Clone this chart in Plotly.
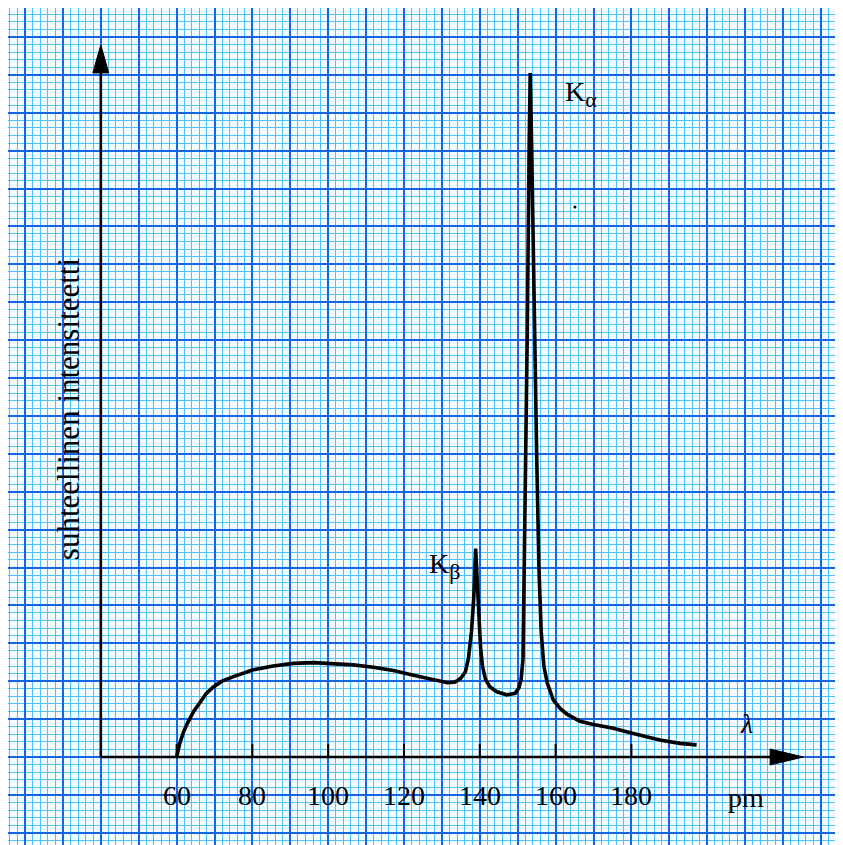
import plotly.graph_objects as go

# Spectrum (wavelength in pm, relative intensity in grid units)
wavelength = [60, 60.8, 61.8, 62.9, 64.5, 66.2, 67.8, 69.7, 72.0, 75, 80.2, 85.5, 90.8, 96.1, 100,
              106.6, 111.9, 117.2, 122.5, 128.6, 131.5, 133.5, 135.0, 136.2, 137.0,
              137.8, 138.4, 138.9, 139.3, 139.7, 140.2, 140.7, 141.5, 142.7, 144.5,
              147.1, 149.3, 150.3, 150.9, 151.4, 151.9, 152.5, 153.0, 153.3, 153.7,
              154.3, 155.0, 155.6, 156.2, 156.9, 157.8, 159.4, 161.2, 163.0, 166.4,
              170.0, 175.2, 180.5, 187.5, 192.8, 197.2]
intensity = [0, 3.5, 6.5, 9.0, 12.0, 14.6, 16.7, 18.5, 20.0, 21.2, 23.0, 24.0, 24.7, 24.9, 24.7,
             24.3, 23.7, 22.8, 21.6, 20.3, 19.6, 19.8, 20.8, 22.5, 26,
             33, 42, 55, 46, 37, 29, 24, 20.5, 18.5, 17.2,
             16.4, 16.8, 18.2, 20.5, 26, 60, 110, 160, 180.5, 160,
             120, 80, 50, 33, 24, 19.5, 15.0, 12.8, 11.3, 9.4,
             8.6, 7.6, 6.2, 4.5, 3.6, 3.2]

tick_values = [60, 80, 100, 120, 140, 160, 180]
y_label = "suhteellinen intensiteetti"
x_unit = "pm"
x_symbol = "λ"
peak_labels = [("K", "α", 161.9, 175.0), ("K", "β", 126.0, 50.5)]

MAJOR = "#1565e6"
MINOR = "#52c2f2"
SERIF = "Liberation Serif"

fig = go.Figure()
fig.add_trace(go.Scatter(x=wavelength, y=intensity, mode="lines",
                         line=dict(color="black", width=3.6), hoverinfo="skip"))

shapes = []
# axes
x_origin = 40
shapes.append(dict(type="line", x0=x_origin, y0=0, x1=x_origin, y1=181, xref="x", yref="y",
                   line=dict(color="black", width=2.6)))
shapes.append(dict(type="line", x0=x_origin, y0=0, x1=217, y1=0, xref="x", yref="y",
                   line=dict(color="black", width=2.6)))
shapes.append(dict(type="path", path="M 37.9 180.5 L 40 187.9 L 42.1 180.5 Z",
                   fillcolor="black", line=dict(color="black", width=1)))
shapes.append(dict(type="path", path="M 216.6 2.1 L 225.4 0 L 216.6 -2.1 Z",
                   fillcolor="black", line=dict(color="black", width=1)))
for t in tick_values:
    shapes.append(dict(type="line", x0=t, y0=0, x1=t, y1=3.4, xref="x", yref="y",
                       line=dict(color="black", width=2)))
# stray dot
shapes.append(dict(type="circle", x0=164.7, y0=144.7, x1=165.5, y1=145.5,
                   fillcolor="black", line=dict(color="black", width=0)))

annotations = []
for t in tick_values:
    annotations.append(dict(x=t, y=-10.2, text=str(t), showarrow=False, xref="x", yref="y",
                            font=dict(family=SERIF, size=28, color="black")))
annotations.append(dict(x=210.2, y=-10.8, text=x_unit, showarrow=False,
                        font=dict(family=SERIF, size=28, color="black")))
annotations.append(dict(x=210.4, y=8.8, text="<i>" + x_symbol + "</i>", showarrow=False,
                        font=dict(family=SERIF, size=28, color="black")))
annotations.append(dict(x=31.3, y=92.0, text=y_label, showarrow=False, textangle=-90,
                        font=dict(family=SERIF, size=31, color="black")))
for main, sub, lx, ly in peak_labels:
    annotations.append(dict(x=lx, y=ly,
                            text=main + "<sub><span style='font-size:22px'>" + sub + "</span></sub>",
                            showarrow=False, xanchor="left", yanchor="middle",
                            font=dict(family=SERIF, size=28, color="black")))

axis_common = dict(showticklabels=False, showline=False, zeroline=False, ticks="",
                   showgrid=True, gridcolor=MAJOR, gridwidth=2, dtick=10, tick0=0,
                   minor=dict(showgrid=True, dtick=2, tick0=0, gridcolor=MINOR, gridwidth=1.2))

fig.update_layout(
    width=835, height=837,
    margin=dict(l=0, r=0, t=0, b=0),
    paper_bgcolor="white",
    plot_bgcolor="#f2fbff",
    showlegend=False,
    xaxis=dict(range=[15.515, 235.83], **axis_common),
    yaxis=dict(range=[-23.22, 197.63], **axis_common),
    shapes=shapes,
    annotations=annotations,
)

fig.write_html("out.html")
